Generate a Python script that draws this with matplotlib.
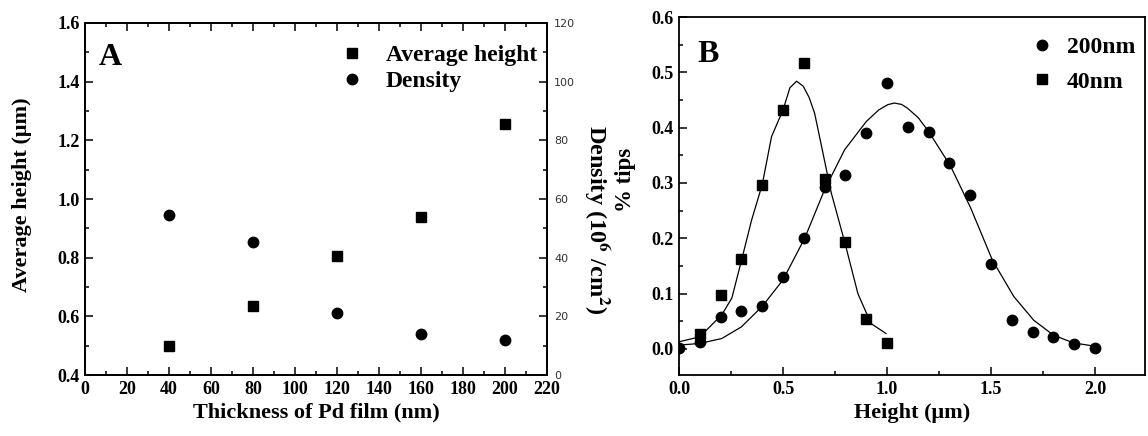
import matplotlib
matplotlib.use('Agg')
import matplotlib.pyplot as plt
from matplotlib.ticker import MultipleLocator

# ---- panel A data
thickness = [40, 80, 120, 160, 200]
avg_height = [0.50, 0.635, 0.805, 0.94, 1.255]
density = [54.5, 45.5, 21.0, 14.0, 12.0]

# ---- panel B data (height distribution)
h_200 = [0.0, 0.1, 0.2, 0.3, 0.4, 0.5, 0.6, 0.7, 0.8, 0.9, 1.0,
         1.1, 1.2, 1.3, 1.4, 1.5, 1.6, 1.7, 1.8, 1.9, 2.0]
tips_200 = [0.001, 0.013, 0.058, 0.069, 0.078, 0.131, 0.201, 0.292, 0.315, 0.390, 0.481,
            0.402, 0.393, 0.336, 0.279, 0.154, 0.052, 0.031, 0.022, 0.009, 0.001]
h_40 = [0.1, 0.2, 0.3, 0.4, 0.5, 0.6, 0.7, 0.8, 0.9, 1.0]
tips_40 = [0.028, 0.098, 0.162, 0.297, 0.432, 0.516, 0.307, 0.194, 0.054, 0.011]

# fitted curves
fit40_x = [0.0, 0.10, 0.206, 0.254, 0.301, 0.349, 0.40, 0.445, 0.50, 0.533, 0.565,
           0.597, 0.625, 0.652, 0.692, 0.732, 0.796, 0.86, 0.923, 0.995]
fit40_y = [0.013, 0.022, 0.062, 0.092, 0.161, 0.233, 0.297, 0.384, 0.432, 0.472, 0.484,
           0.475, 0.455, 0.426, 0.354, 0.282, 0.194, 0.100, 0.046, 0.028]
fit200_x = [0.0, 0.10, 0.206, 0.30, 0.40, 0.50, 0.604, 0.70, 0.796, 0.90, 0.96, 1.003,
            1.035, 1.07, 1.099, 1.15, 1.20, 1.306, 1.402, 1.506, 1.609, 1.705, 1.80,
            1.896, 2.0]
fit200_y = [0.007, 0.010, 0.019, 0.040, 0.077, 0.125, 0.200, 0.288, 0.360, 0.411, 0.432,
            0.4415, 0.4445, 0.442, 0.435, 0.418, 0.393, 0.330, 0.255, 0.161, 0.095,
            0.052, 0.025, 0.011, 0.005]

plt.rcParams['font.family'] = ['Liberation Serif', 'DejaVu Serif']
plt.rcParams['font.weight'] = 'bold'
plt.rcParams['mathtext.fontset'] = 'stix'
plt.rcParams['axes.linewidth'] = 1.3

W, H = 1148, 436
fig = plt.figure(figsize=(W / 100, H / 100), dpi=100)


def style_ticks(ax, **kw):
    ax.tick_params(which='both', direction='in', width=1.1, labelsize=13, **kw)
    ax.tick_params(which='major', length=6)
    ax.tick_params(which='minor', length=3)


# ---------------- panel A
axA = fig.add_axes([85 / W, 1 - 375 / H, 462 / W, 352 / H])
axA.plot(thickness, avg_height, 's', color='black', ms=7, label='Average height')
axA.set_xlim(0, 220)
axA.set_ylim(0.4, 1.6)
axA.xaxis.set_major_locator(MultipleLocator(20))
axA.xaxis.set_minor_locator(MultipleLocator(10))
axA.yaxis.set_minor_locator(MultipleLocator(0.1))
axA.set_yticks([0.4, 0.6, 0.8, 1.0, 1.2, 1.4, 1.6])
axA.set_yticklabels(['0.4', '0.6', '0.8', '1.0', '1.2', '1.4', '1.6'])
style_ticks(axA, top=True, pad=4)
for lab in axA.get_xticklabels() + axA.get_yticklabels():
    lab.set_fontweight('bold')

axA2 = axA.twinx()
axA2.plot(thickness, density, 'o', color='black', ms=7.5, label='Density')
axA2.set_ylim(0, 120)
axA2.yaxis.set_major_locator(MultipleLocator(20))
axA2.yaxis.set_minor_locator(MultipleLocator(10))
axA2.tick_params(which='both', direction='in', width=1.1, labelsize=8,
                 labelcolor='#333333', pad=5)
axA2.tick_params(which='major', length=6)
axA2.tick_params(which='minor', length=3)
for lab in axA2.get_yticklabels():
    lab.set_family('DejaVu Sans')
    lab.set_fontweight('normal')

h1, l1 = axA.get_legend_handles_labels()
h2, l2 = axA2.get_legend_handles_labels()
axA2.legend(h1 + h2, l1 + l2, loc='upper right', bbox_to_anchor=(1.025, 1.0),
            frameon=False, fontsize=17, handletextpad=0.85, labelspacing=0.2,
            handlelength=1.2)

axA.text(0.03, 0.88, 'A', transform=axA.transAxes, fontsize=23,
         fontweight='bold')
fig.text(316 / W, 1 - 412 / H, 'Thickness of Pd film (nm)', ha='center',
         va='center', fontsize=16, fontweight='bold')
fig.text(22 / W, 1 - 195 / H, 'Average height (\u03bcm)', ha='center',
         va='center', rotation=90, fontsize=16, fontweight='bold')
fig.text(597 / W, 1 - 220 / H, 'Density (10$^{6}$ /cm$^{2}$)',
         ha='center', va='center', rotation=270, fontsize=17.5, fontweight='bold')

# ---------------- panel B
axB = fig.add_axes([679 / W, 1 - 375 / H, 466 / W, 358 / H])
axB.plot(fit40_x, fit40_y, '-', color='black', lw=0.9)
axB.plot(fit200_x, fit200_y, '-', color='black', lw=0.9)
axB.plot(h_200, tips_200, 'o', color='black', ms=7.5, label='200nm')
axB.plot(h_40, tips_40, 's', color='black', ms=7, label='40nm')
axB.set_xlim(0, 2.24)
axB.set_ylim(-0.047, 0.6)
axB.xaxis.set_minor_locator(MultipleLocator(0.25))
axB.set_yticks([0.0, 0.1, 0.2, 0.3, 0.4, 0.5, 0.6])
axB.yaxis.set_minor_locator(MultipleLocator(0.05))
style_ticks(axB, pad=4)
axB.set_xticks([0.0, 0.5, 1.0, 1.5, 2.0])
axB.set_xticklabels(['0.0', '0.5', '1.0', '1.5', '2.0'])
axB.set_yticklabels(['0.0', '0.1', '0.2', '0.3', '0.4', '0.5', '0.6'])
for lab in axB.get_xticklabels() + axB.get_yticklabels():
    lab.set_fontweight('bold')
axB.legend(loc='upper right', bbox_to_anchor=(1.025, 1.005), frameon=False,
           fontsize=17, handletextpad=0.45, labelspacing=0.55, handlelength=1.2)
axB.text(0.04, 0.875, 'B', transform=axB.transAxes, fontsize=23,
         fontweight='bold')
fig.text(912 / W, 1 - 413 / H, 'Height (\u03bcm)', ha='center', va='center',
         fontsize=16, fontweight='bold')
fig.text(625 / W, 1 - 180 / H, '% tips', ha='center', va='center',
         rotation=90, fontsize=16.5, fontweight='bold')

fig.savefig('out.png', dpi=100)
